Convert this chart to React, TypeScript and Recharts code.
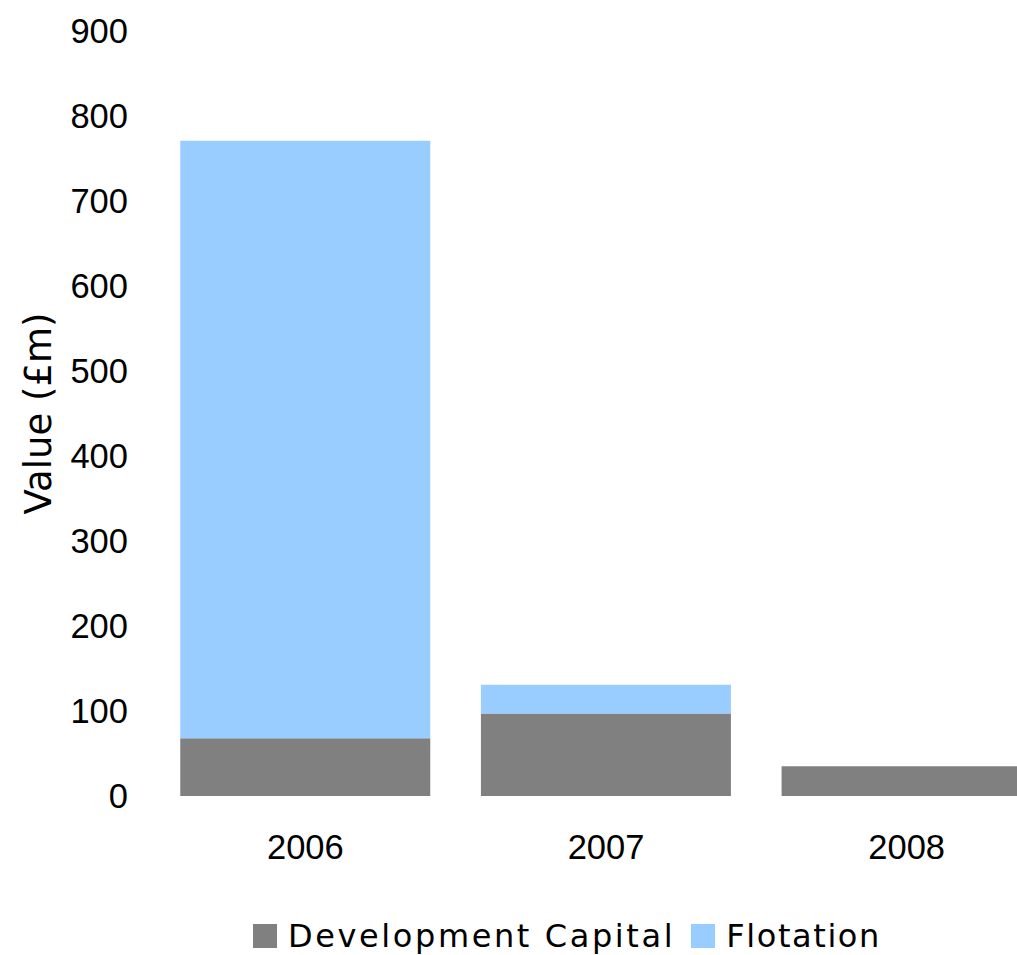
import React from "react";
import { BarChart, Bar, XAxis, YAxis, Legend, Label } from "recharts";

const years = ["2006", "2007", "2008"];
const developmentCapital = [68, 97, 35];
const flotation = [703, 34, 0];
const yTicks = [0, 100, 200, 300, 400, 500, 600, 700, 800, 900];
const seriesNames = ["Development Capital", "Flotation"];
const seriesColors = ["#808080", "#99CCFF"];

const data = years.map((y, i) => ({
  year: y,
  dev: developmentCapital[i],
  flot: flotation[i],
}));

const tickStyle = { fontFamily: "'Liberation Sans', Arial, sans-serif", fontSize: 34.5, fill: "#000" };

const LegendContent = () => (
  <div style={{ position: "relative", height: 89 }}>
    <div
      style={{
        position: "absolute",
        top: 58,
        left: 253,
        display: "flex",
        alignItems: "flex-start",
        whiteSpace: "nowrap",
        fontFamily: "'DejaVu Sans', sans-serif",
        fontSize: 32,
        letterSpacing: 2.4,
        lineHeight: "24px",
        color: "#000",
      }}
    >
      {seriesNames.map((n, i) => (
        <div key={n} style={{ display: "flex", alignItems: "flex-start", marginRight: i === 0 ? 16 : 0 }}>
          <div style={{ width: 24, height: 24, background: seriesColors[i], marginRight: 11 }} />
          <span style={{ letterSpacing: i === 0 ? 2.6 : 1.6 }}>{n}</span>
        </div>
      ))}
    </div>
  </div>
);

export default function App() {
  return (
    <div style={{ position: "fixed", left: 0, top: 0, width: 1017, height: 955, overflow: "hidden", background: "#fff" }}>
      <BarChart
        width={1100}
        height={955}
        data={data}
        margin={{ top: 31, right: 43, bottom: 0, left: 0 }}
        barCategoryGap="8.4%"
      >
        <XAxis
          dataKey="year"
          axisLine={false}
          tickLine={false}
          tickSize={0}
          tickMargin={39}
          height={70}
          tick={tickStyle}
        />
        <YAxis
          domain={[0, 900]}
          ticks={yTicks}
          interval={0}
          axisLine={false}
          tickLine={false}
          tickSize={0}
          tickMargin={27}
          width={155}
          tick={tickStyle}
        >
          <Label
            content={({ viewBox }: any) => {
              const cy = viewBox.y + viewBox.height / 2;
              return (
                <text
                  transform={`translate(51, ${cy}) rotate(-90)`}
                  textAnchor="middle"
                  style={{ fontFamily: "'DejaVu Sans', sans-serif", fontSize: 37, fill: "#000" }}
                >
                  Value (£m)
                </text>
              );
            }}
          />
        </YAxis>
        <Legend verticalAlign="bottom" height={89} content={LegendContent} />
        <Bar dataKey="dev" stackId="a" fill={seriesColors[0]} name={seriesNames[0]} isAnimationActive={false} />
        <Bar dataKey="flot" stackId="a" fill={seriesColors[1]} name={seriesNames[1]} isAnimationActive={false} />
      </BarChart>
    </div>
  );
}
